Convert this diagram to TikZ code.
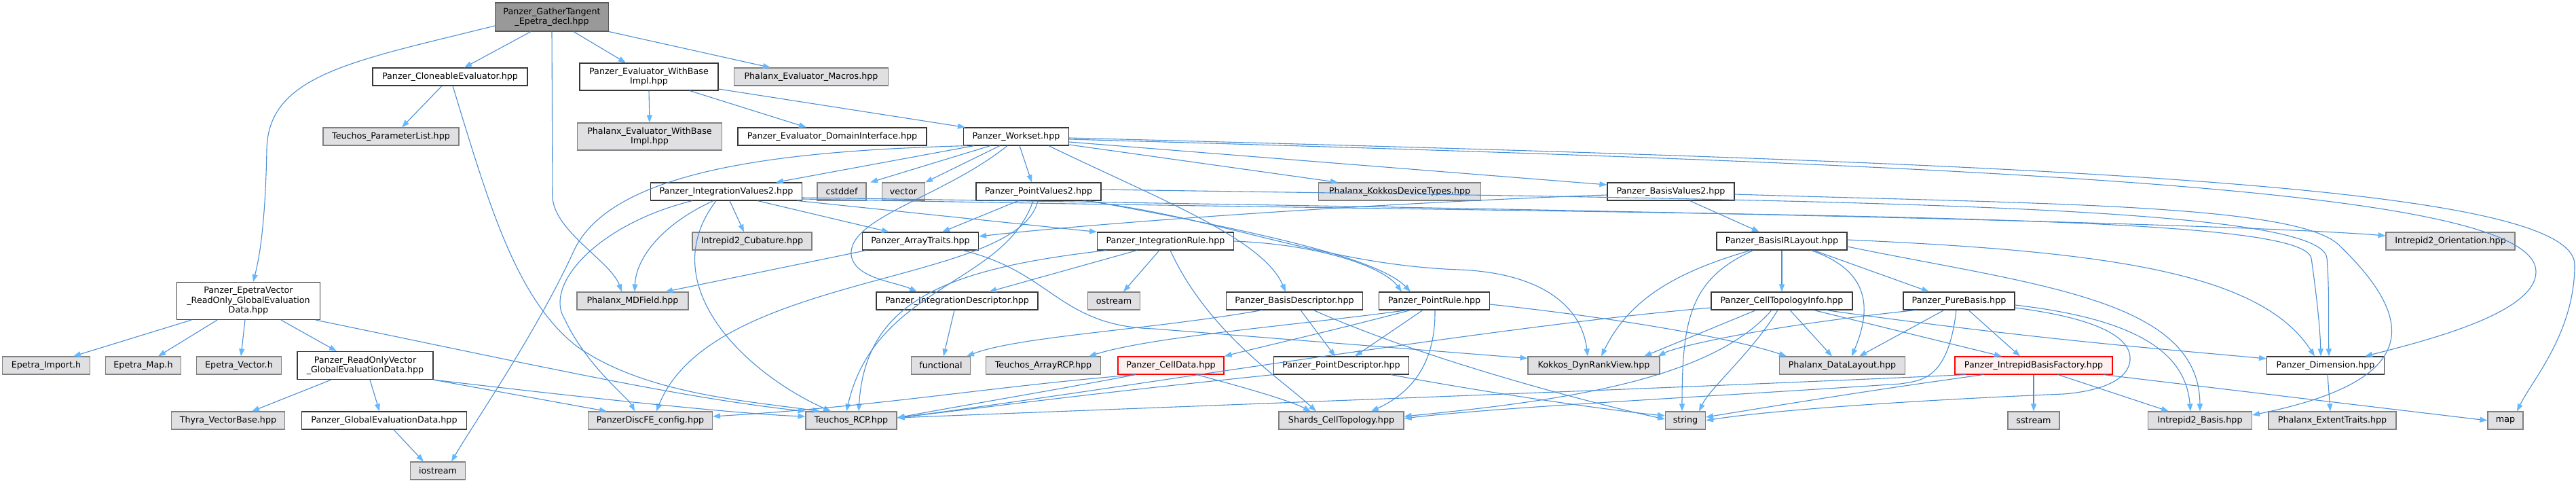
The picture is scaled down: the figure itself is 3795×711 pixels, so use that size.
\documentclass[tikz,border=0pt]{standalone}
\usepackage{fontspec}
\setmainfont{DejaVu Sans}
\usetikzlibrary{arrows.meta}

\definecolor{depline}{HTML}{4A8FD6}
\definecolor{deptip}{HTML}{63B8FF}
\definecolor{extfill}{HTML}{E0E0E3}
\definecolor{rootfill}{HTML}{999999}
\definecolor{cutfill}{HTML}{FFF0F0}

\tikzset{
  hdr/.style={draw=black!78, fill=white, line width=1.1pt, inner sep=0pt,
    minimum height=26, align=center, font=\fontsize{12.7}{14.5}\selectfont},
  sys/.style={hdr, draw=black!50, fill=extfill},
  cut/.style={hdr, draw=red, fill=cutfill},
  main/.style={hdr, draw=black!65, fill=rootfill},
  dep/.style={draw=depline, line width=1.1pt, -{Triangle[length=11pt,width=8pt,color=deptip]}},
}

\begin{document}
\begin{tikzpicture}[x=1pt, y=-1pt]
\useasboundingbox (0,0) rectangle (3795,711);

% headers, top to bottom
\node[main, minimum width=167, minimum height=42] (root) at (813,25) {Panzer\_GatherTangent\\\_Epetra\_decl.hpp};

\node[hdr, minimum width=228] (clone) at (663,113) {Panzer\_CloneableEvaluator.hpp};
\node[hdr, minimum width=204, minimum height=40] (evwb) at (956,113) {Panzer\_Evaluator\_WithBase\\Impl.hpp};
\node[sys, minimum width=227] (phmacro) at (1195,113) {Phalanx\_Evaluator\_Macros.hpp};

\node[sys, minimum width=200] (plist) at (576,201) {Teuchos\_ParameterList.hpp};
\node[sys, minimum width=213, minimum height=40] (phevwb) at (957,201) {Phalanx\_Evaluator\_WithBase\\Impl.hpp};
\node[hdr, minimum width=278] (domif) at (1226,201) {Panzer\_Evaluator\_DomainInterface.hpp};
\node[hdr, minimum width=155] (ws) at (1497,201) {Panzer\_Workset.hpp};

\node[hdr, minimum width=223] (intv) at (1070,282) {Panzer\_IntegrationValues2.hpp};
\node[sys, minimum width=72] (cstd) at (1240,282) {cstddef};
\node[sys, minimum width=63] (vec) at (1331,282) {vector};
\node[hdr, minimum width=184] (ptv) at (1530,282) {Panzer\_PointValues2.hpp};
\node[sys, minimum width=239] (kdev) at (2062,282) {Phalanx\_KokkosDeviceTypes.hpp};
\node[hdr, minimum width=187] (bv) at (2461.5,282) {Panzer\_BasisValues2.hpp};

\node[sys, minimum width=176] (cubat) at (1108,355) {Intrepid2\_Cubature.hpp};
\node[hdr, minimum width=171] (atr) at (1356,355) {Panzer\_ArrayTraits.hpp};
\node[hdr, minimum width=201] (irule) at (1717,355) {Panzer\_IntegrationRule.hpp};
\node[hdr, minimum width=192] (birl) at (2625,355) {Panzer\_BasisIRLayout.hpp};
\node[sys, minimum width=190] (orient) at (3610,355) {Intrepid2\_Orientation.hpp};

\node[hdr, minimum width=211, minimum height=55] (evro) at (366,443) {Panzer\_EpetraVector\\\_ReadOnly\_GlobalEvaluation\\Data.hpp};
\node[sys, minimum width=164] (mdf) at (932,443) {Phalanx\_MDField.hpp};
\node[hdr, minimum width=238] (idesc) at (1410,443) {Panzer\_IntegrationDescriptor.hpp};
\node[sys, minimum width=77] (ostr) at (1641,443) {ostream};
\node[hdr, minimum width=201] (bdesc) at (1907,443) {Panzer\_BasisDescriptor.hpp};
\node[hdr, minimum width=163] (prule) at (2113,443) {Panzer\_PointRule.hpp};
\node[hdr, minimum width=208] (cti) at (2625,443) {Panzer\_CellTopologyInfo.hpp};
\node[hdr, minimum width=164] (pbasis) at (2886,443) {Panzer\_PureBasis.hpp};

\node[sys, minimum width=129] (eimp) at (68,538) {Epetra\_Import.h};
\node[sys, minimum width=111] (emap) at (211,538) {Epetra\_Map.h};
\node[sys, minimum width=125] (evec) at (352,538) {Epetra\_Vector.h};
\node[hdr, minimum width=200, minimum height=41] (rov) at (538,538) {Panzer\_ReadOnlyVector\\\_GlobalEvaluationData.hpp};
\node[sys, minimum width=87] (func) at (1386,538) {functional};
\node[sys, minimum width=169] (arcp) at (1537,538) {Teuchos\_ArrayRCP.hpp};
\node[cut, minimum width=156] (celld) at (1725,538) {Panzer\_CellData.hpp};
\node[hdr, minimum width=199] (pdesc) at (1976,538) {Panzer\_PointDescriptor.hpp};
\node[sys, minimum width=194] (drv) at (2348,538) {Kokkos\_DynRankView.hpp};
\node[sys, minimum width=185] (dlay) at (2714,538) {Phalanx\_DataLayout.hpp};
\node[cut, minimum width=232] (ibf) at (2996,538) {Panzer\_IntrepidBasisFactory.hpp};
\node[hdr, minimum width=173] (dim) at (3426,538) {Panzer\_Dimension.hpp};

\node[sys, minimum width=167] (thyra) at (336,619) {Thyra\_VectorBase.hpp};
\node[hdr, minimum width=243] (ged) at (566,619) {Panzer\_GlobalEvaluationData.hpp};
\node[sys, minimum width=183] (dfe) at (958,619) {PanzerDiscFE\_config.hpp};
\node[sys, minimum width=134] (rcp) at (1254,619) {Teuchos\_RCP.hpp};
\node[sys, minimum width=184] (shards) at (1976,619) {Shards\_CellTopology.hpp};
\node[sys, minimum width=59] (str) at (2483,619) {string};
\node[sys, minimum width=76] (sstr) at (2996,619) {sstream};
\node[sys, minimum width=153] (ibasis) at (3241,619) {Intrepid2\_Basis.hpp};
\node[sys, minimum width=188] (extr) at (3436,619) {Phalanx\_ExtentTraits.hpp};
\node[sys, minimum width=52] (mapn) at (3691,619) {map};

\node[sys, minimum width=81] (iostr) at (645,693) {iostream};

% root
\draw[dep] ([yshift=-13]root.west) .. controls (520,90) and (395,110) .. (393,220) .. controls (391,330) and (382,380) .. ([xshift=7]evro.north);
\draw[dep] ([xshift=-31]root.south) -- ([xshift=21]clone.north);
\draw[dep] (root.south) -- (814,290) .. controls (816,340) and (900,385) .. ([xshift=-16]mdf.north);
\draw[dep] ([xshift=32]root.south) -- ([xshift=-34]evwb.north);
\draw[dep] (root.south east) -- ([xshift=-60]phmacro.north);

% cloneable evaluator
\draw[dep] ([xshift=-12]clone.south) -- ([xshift=16]plist.north);
\draw[dep] ([xshift=4]clone.south) .. controls (720,300) and (760,440) .. (850,510) .. controls (950,580) and (1100,590) .. ([xshift=-46]rcp.north);

% evaluator with base
\draw[dep] (evwb.south) -- (phevwb.north);
\draw[dep] ([xshift=60]evwb.south) -- ([xshift=-38]domif.north);
\draw[dep] ([yshift=-18]evwb.east) -- ([xshift=3]ws.north west);

% workset
\draw[dep] ([xshift=-62]ws.south) -- ([xshift=73]intv.north);
\draw[dep] ([xshift=-38]ws.south) -- ([xshift=42]cstd.north);
\draw[dep] ([xshift=-24]ws.south) -- ([xshift=32]vec.north);
\draw[dep] ([xshift=5]ws.south) -- ([xshift=-10]ptv.north);
\draw[dep] ([xshift=-72]ws.south) .. controls (1150,222) and (900,250) .. (845,370) .. controls (790,490) and (700,620) .. ([xshift=20]iostr.north);
\draw[dep] ([xshift=-13]ws.south) .. controls (1390,290) and (1250,320) .. (1254,375) .. controls (1258,410) and (1320,415) .. ([xshift=-59]idesc.north);
\draw[dep] ([xshift=48]ws.south) .. controls (1700,290) and (1860,350) .. ([xshift=-13]bdesc.north);
\draw[dep] ([yshift=-12]ws.east) -- ([xshift=-91]kdev.north);
\draw[dep] ([yshift=-8]ws.east) -- ([yshift=10]bv.west);
\draw[dep] ([yshift=-4]ws.east) .. controls (3000,245) and (3736,280) .. (3736,400) .. controls (3736,460) and (3580,500) .. ([xshift=58]dim.north);
\draw[dep] ([yshift=-2]ws.east) .. controls (3000,240) and (3793,270) .. (3793,390) .. controls (3793,490) and (3730,560) .. ([xshift=17]mapn.north);

% integration values
\draw[dep] ([xshift=-50]intv.south) .. controls (880,330) and (800,420) .. (832,470) .. controls (865,540) and (925,585) .. ([xshift=-23]dfe.north);
\draw[dep] ([xshift=-19]intv.south) .. controls (975,330) and (937,380) .. ([xshift=3]mdf.north);
\draw[dep] ([xshift=-15]intv.south) .. controls (960,420) and (1100,550) .. ([xshift=-30]rcp.north);
\draw[dep] ([xshift=5]intv.south) -- ([xshift=-12]cubat.north);
\draw[dep] ([xshift=46]intv.south) -- ([xshift=-46]atr.north);
\draw[dep] ([xshift=105]intv.south) -- (irule.north west);
\draw[dep] ([yshift=-9]intv.east) .. controls (2500,310) and (3300,330) .. ([yshift=8]orient.west);
\draw[dep] ([yshift=-11]intv.east) .. controls (2600,320) and (3390,310) .. (3405,380) .. controls (3412,430) and (3418,480) .. ([xshift=-7]dim.north);

% point values
\draw[dep] ([xshift=-30]ptv.south) -- ([xshift=32]atr.north);
\draw[dep] ([xshift=74]ptv.south) .. controls (1850,340) and (2030,380) .. ([xshift=-35]prule.north);
\draw[dep] ([xshift=66]ptv.south) .. controls (1800,320) and (1950,390) .. (2150,397) .. controls (2270,402) and (2330,450) .. ([xshift=-9]drv.north);
\draw[dep] ([yshift=3]ptv.east) .. controls (2700,295) and (3420,300) .. (3428,380) .. controls (3432,430) and (3430,480) .. ([xshift=5]dim.north);
\draw[dep] ([xshift=-8]ptv.south) .. controls (1480,420) and (1290,420) .. ([xshift=-7]rcp.north);
\draw[dep] ([xshift=-1]ptv.south) .. controls (1500,420) and (1050,400) .. ([xshift=9]dfe.north);

% array traits
\draw[dep] ([xshift=-80]atr.south) -- ([xshift=48]mdf.north);
\draw[dep] ([xshift=62]atr.south) .. controls (1550,400) and (1560,480) .. (1700,484) -- ([yshift=-3]drv.north west);

% integration rule
\draw[dep] ([xshift=-42]irule.south) -- ([xshift=47]idesc.north);
\draw[dep] ([xshift=-9]irule.south) -- ([xshift=14]ostr.north);
\draw[dep] ([xshift=7]irule.south) .. controls (1780,490) and (1890,560) .. ([xshift=-37]shards.north);
\draw[dep] (irule.east) .. controls (1950,360) and (2040,395) .. ([xshift=-48]prule.north);
\draw[dep] ([xshift=-87]irule.south) .. controls (1400,395) and (1275,440) .. ([xshift=11]rcp.north);
\draw[dep] ([xshift=-4]idesc.south) -- ([xshift=4]func.north);

% basis and point descriptors
\draw[dep] ([xshift=9]bdesc.south) -- ([xshift=-9]pdesc.north);
\draw[dep] ([xshift=28]bdesc.south) .. controls (2100,530) and (2350,595) .. ([yshift=2]str.west);
\draw[dep] ([xshift=-48]bdesc.south) .. controls (1700,485) and (1500,495) .. ([xshift=38]func.north);
\draw[dep] (pdesc.south west) .. controls (1600,580) and (1450,600) .. ([yshift=4]rcp.east);
\draw[dep] ([xshift=73]pdesc.south) .. controls (2200,580) and (2380,605) .. ([yshift=7]str.west);

% point rule
\draw[dep] ([xshift=-17]prule.south) -- ([xshift=20]pdesc.north);
\draw[dep] ([xshift=1]prule.south) .. controls (2115,540) and (2075,580) .. ([xshift=44]shards.north);
\draw[dep] ([xshift=-35]prule.south) .. controls (1950,490) and (1860,510) .. (celld.north east);
\draw[dep] ([xshift=-40]prule.south) .. controls (1900,480) and (1700,495) .. ([xshift=67]arcp.north);
\draw[dep] ([yshift=-5]prule.east) .. controls (2400,470) and (2560,500) .. ([xshift=-82]dlay.north);

% cell data
\draw[dep] ([xshift=-52]celld.south) .. controls (1550,575) and (1400,600) .. ([yshift=4]rcp.east);
\draw[dep] ([xshift=-52]celld.south) .. controls (1450,570) and (1300,598) .. ([yshift=6]dfe.east);
\draw[dep] ([xshift=38]celld.south) .. controls (1850,575) and (1900,590) .. ([xshift=-45]shards.north);

% basis values and layout
\draw[dep] ([xshift=28]bv.south) -- ([xshift=-33]birl.north);
\draw[dep] ([yshift=-5]bv.west) .. controls (2000,300) and (1600,330) .. ([yshift=7]atr.east);
\draw[dep] ([yshift=-4]bv.east) .. controls (3000,300) and (3380,300) .. (3445,360) .. controls (3560,470) and (3570,560) .. ([yshift=8]ibasis.east);
\draw[dep] (birl.south) -- (cti.north);
\draw[dep] ([xshift=47]birl.south) -- ([xshift=-44]pbasis.north);
\draw[dep] ([xshift=43]birl.south) .. controls (2760,400) and (2755,460) .. ([xshift=14]dlay.north);
\draw[dep] ([xshift=-42]birl.south) .. controls (2490,410) and (2478,470) .. ([xshift=-5]str.north);
\draw[dep] ([xshift=-46]birl.south) .. controls (2470,400) and (2400,440) .. ([xshift=11]drv.north);
\draw[dep] ([yshift=2]birl.east) .. controls (3100,370) and (3330,400) .. ([xshift=-16]dim.north);
\draw[dep] ([yshift=-8]birl.east) .. controls (3000,420) and (3240,440) .. (ibasis.north);

% cell topology info
\draw[dep] ([xshift=-38]cti.south) -- ([xshift=74]drv.north);
\draw[dep] ([xshift=12]cti.south) -- ([xshift=-15]dlay.north);
\draw[dep] ([xshift=-6]cti.south) .. controls (2580,520) and (2520,570) .. ([xshift=20]str.north);
\draw[dep] ([xshift=-15]cti.south) .. controls (2520,560) and (2300,590) .. ([yshift=6]shards.east);
\draw[dep] ([yshift=-10]cti.west) .. controls (2200,480) and (1600,580) .. ([yshift=4]rcp.east);
\draw[dep] ([xshift=47]cti.south) -- ([xshift=-47]ibf.north);
\draw[dep] ([xshift=65]cti.south) .. controls (3000,500) and (3200,515) .. ([yshift=10]dim.west);

% pure basis
\draw[dep] ([xshift=-22]pbasis.south) -- ([xshift=25]dlay.north);
\draw[dep] ([xshift=14]pbasis.south) -- ([xshift=-20]ibf.north);
\draw[dep] ([xshift=-64]pbasis.south) .. controls (2600,480) and (2470,510) .. ([xshift=-3]drv.north east);
\draw[dep] ([xshift=-4]pbasis.south) .. controls (2870,560) and (2830,560) .. (2800,565) .. controls (2500,585) and (2200,600) .. ([yshift=3]shards.east);
\draw[dep] ([yshift=-6]pbasis.east) .. controls (3150,470) and (3220,520) .. ([xshift=-14]ibasis.north);
\draw[dep] ([yshift=-10]pbasis.east) .. controls (3100,470) and (3140,500) .. (3138,530) .. controls (3135,565) and (3080,577) .. (3040,580) .. controls (2800,590) and (2600,605) .. (str.east);

% intrepid basis factory
\draw[dep] (ibf.south) -- (sstr.north);
\draw[dep] ([xshift=-74]ibf.south) .. controls (2750,575) and (2600,600) .. ([yshift=5]str.east);
\draw[dep] ([xshift=-100]ibf.south) .. controls (2500,570) and (1700,600) .. ([yshift=4]rcp.east);
\draw[dep] ([xshift=36]ibf.south) -- ([xshift=-46]ibasis.north);
\draw[dep] ([xshift=-14]ibf.south east) -- (mapn.west);
\draw[dep] ([xshift=3]dim.south) -- ([xshift=-3]extr.north);

% epetra vector side
\draw[dep] ([xshift=-84]evro.south) -- ([xshift=40]eimp.north);
\draw[dep] ([xshift=-46]evro.south) -- ([xshift=22]emap.north);
\draw[dep] ([xshift=-5]evro.south) -- ([xshift=3]evec.north);
\draw[dep] ([xshift=48]evro.south) -- ([xshift=-42]rov.north);
\draw[dep] ([xshift=99]evro.south) .. controls (800,540) and (1000,585) .. (rcp.north west);
\draw[dep] ([xshift=-50]rov.south) -- ([xshift=35]thyra.north);
\draw[dep] ([xshift=7]rov.south) -- ([xshift=-7]ged.north);
\draw[dep] (rov.south east) -- ([xshift=28]dfe.north west);
\draw[dep] (rov.south east) .. controls (900,590) and (1100,610) .. ([yshift=6]rcp.west);
\draw[dep] ([xshift=14]ged.south) -- ([xshift=-21]iostr.north);
\end{tikzpicture}
\end{document}
